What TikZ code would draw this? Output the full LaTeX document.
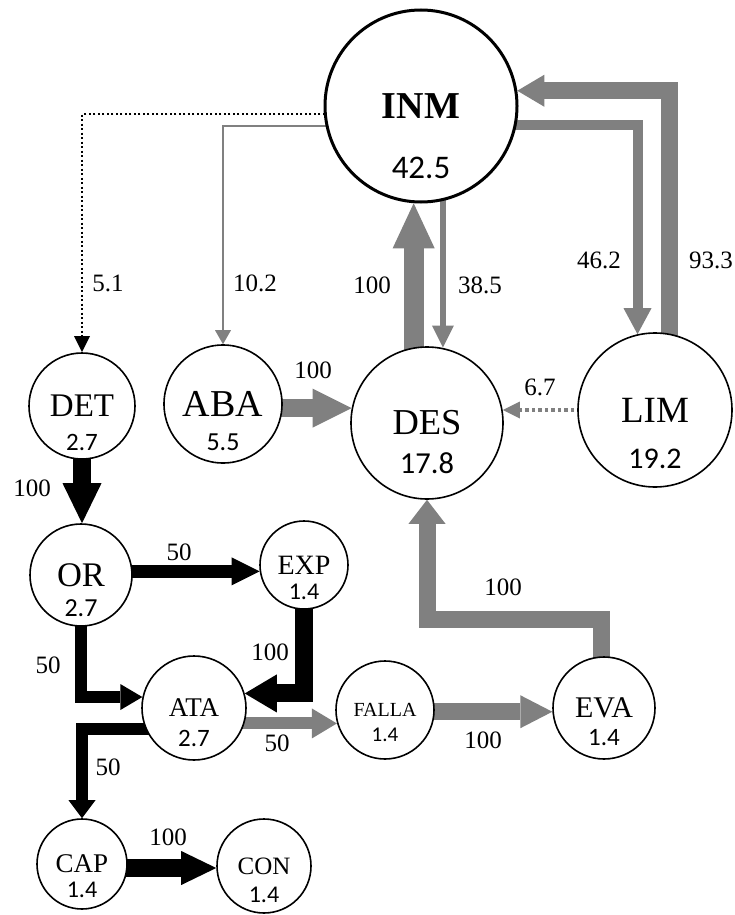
\documentclass[tikz,border=0pt]{standalone}
\usepackage{fontspec}
\setmainfont{Liberation Serif}
\newfontfamily\numfont{Carlito}
\usetikzlibrary{arrows.meta,calc}
\pgfdeclarelayer{bg}
\pgfsetlayers{bg,main}
\definecolor{flowgray}{RGB}{128,128,128}
\tikzset{
  stnode/.style={circle,draw=black,line width=1.6pt,fill=white,inner sep=0pt,minimum size=#1},
  nm/.style={font=\fontsize{#1}{#1}\selectfont},
  num/.style={inner sep=0pt,font=\numfont\fontsize{#1}{#1}\selectfont},
  lab/.style={inner sep=0pt,font=\fontsize{25}{25}\selectfont},
  flow/.style n args={3}{line width=#1pt,line cap=butt,line join=miter,shorten <=-10pt,
    -{Triangle[width=#2pt,length=#3pt,line width=0pt]}},
  gflow/.style n args={3}{draw=flowgray,flow={#1}{#2}{#3}},
  bflow/.style n args={3}{draw=black,flow={#1}{#2}{#3}},
  dotflow/.style={draw=black,line width=2pt,dash pattern=on 2pt off 2.5pt,shorten <=-10pt,
    -{Triangle[width=16pt,length=16pt,line width=0pt]}},
  gdot/.style={draw=flowgray,line width=4pt,dash pattern=on 3.5pt off 3pt,shorten <=-10pt,
    -{Triangle[width=17pt,length=17pt,line width=0pt]}},
}
\begin{document}
\begin{tikzpicture}[x=1pt,y=-1pt]
\useasboundingbox (0,0) rectangle (734,915);
% nodes
\node[stnode=192pt,line width=3pt,font=\bfseries\fontsize{38}{38}\selectfont] (inm) at (421,106) {INM};
\node[stnode=106pt,nm=33] (det) at (82,406) {DET};
\node[stnode=118pt,nm=38] (aba) at (223,404) {ABA};
\node[stnode=152pt,nm=36.5] (des) at (427,423) {DES};
\node[stnode=154pt,nm=37] (lim) at (655,410) {LIM};
\node[stnode=102pt,nm=34.5] (or) at (81,575) {OR};
\node[stnode=88pt,nm=28] (exp) at (304,565) {EXP};
\node[stnode=104pt,nm=27] (ata) at (194,708) {ATA};
\node[stnode=98pt,nm=20] (falla) at (385,710) {FALLA};
\node[stnode=102pt,nm=30] (eva) at (604,708) {EVA};
\node[stnode=90pt,nm=27] (cap) at (82,864) {CAP};
\node[stnode=94pt,nm=25] (con) at (264,866) {CON};
% node values
\node[num=33] (inmv) at ($(inm)+(0,62)$) {42.5};
\node[num=25] (detv) at ($(det)+(0,36)$) {2.7};
\node[num=26] (abav) at ($(aba)+(0,38)$) {5.5};
\node[num=30.5] (desv) at ($(des)+(0,40)$) {17.8};
\node[num=30] (limv) at ($(lim)+(0,49)$) {19.2};
\node[num=26] (orv) at ($(or)+(0,33)$) {2.7};
\node[num=24] (expv) at ($(exp)+(0,27)$) {1.4};
\node[num=25] (atav) at ($(ata)+(0,30)$) {2.7};
\node[num=21] (fallav) at ($(falla)+(0,25)$) {1.4};
\node[num=25] (evav) at ($(eva)+(0,30)$) {1.4};
\node[num=24] (capv) at ($(cap)+(0,26)$) {1.4};
\node[num=24] (conv) at ($(con)+(0,29)$) {1.4};
% edge labels
\node[lab] (l1) at (108,283) {5.1};
\node[lab] (l2) at (255,283) {10.2};
\node[lab] (l3) at (372,285) {100};
\node[lab] (l4) at (480,285) {38.5};
\node[lab] (l5) at (599,260) {46.2};
\node[lab] (l6) at (711,260) {93.3};
\node[lab] (l7) at (313,370) {100};
\node[lab] (l8) at (540,387) {6.7};
\node[lab] (l9) at (32,488) {100};
\node[lab] (l10) at (179,552) {50};
\node[lab] (l11) at (48,665) {50};
\node[lab] (l12) at (270,652) {100};
\node[lab] (l13) at (277,743) {50};
\node[lab] (l14) at (483,740) {100};
\node[lab] (l15) at (503,587) {100};
\node[lab] (l16) at (108,767) {50};
\node[lab] (l17) at (168,837) {100};
% connectors
\begin{pgfonlayer}{bg}
\fill[white] (0,0) rectangle (734,915);
\draw[dotflow] (inm.185) -| (det.north);
\draw[gflow={2}{16}{14}] (inm.192) -| (aba.north);
\draw[gflow={20}{42}{45}] (des.100) -- (des.100 |- inm.266);
\draw[gflow={6}{22}{22}] (inm.283) -- (inm.283 |- des.79);
\draw[gflow={10}{28}{26}] (inm.349) -| (lim.103);
\draw[gflow={17}{32}{27}] (lim.79) |- (inm.9);
\draw[gflow={18}{39}{39}] (aba.-4) -- (aba.-4 -| des.169);
\draw[gdot] (lim.west) -- (lim.west -| des.9);
\draw[bflow={18}{39}{40}] (det.south) -- (det.south |- or.north);
\draw[bflow={13}{28}{28}] (or.4) -- (or.4 -| exp.188);
\draw[bflow={12}{26}{22}] (or.south) |- (ata.168);
\draw[bflow={18}{38}{32}] (exp.south) |- (ata.16);
\draw[gflow={12}{30}{25}] (ata.-17) -- (ata.-17 -| falla.195);
\draw[gflow={17}{33}{32}] (falla.-2) -- (falla.-2 -| eva.184);
\draw[gflow={17}{37}{24}] (eva.93) |- ($(des.south)+(0,120)$) -- (des.south);
\draw[bflow={12}{27}{18}] (ata.203) -| (cap.north);
\draw[bflow={18}{34}{35}] (cap.-5) -- (cap.-5 -| con.182);
\end{pgfonlayer}
\end{tikzpicture}
\end{document}
